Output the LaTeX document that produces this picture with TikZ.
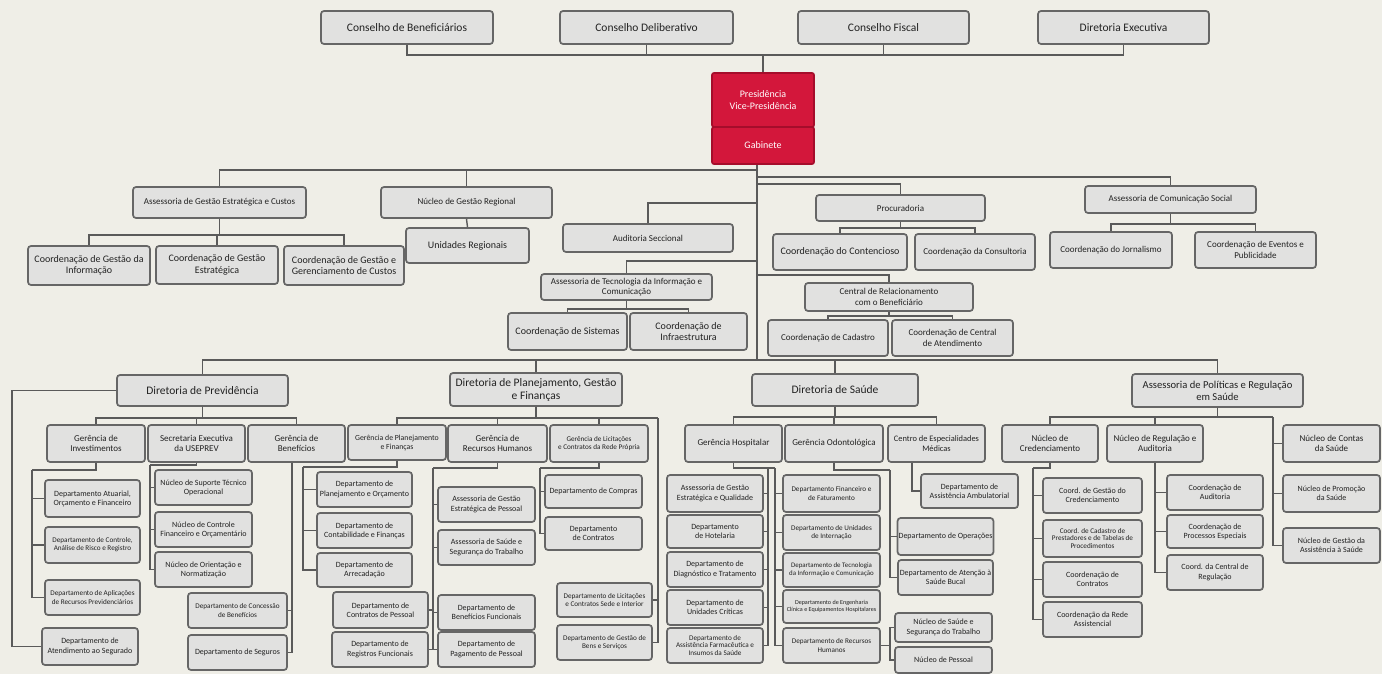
\documentclass[tikz,border=0pt]{standalone}
\usepackage{fontspec}
\setmainfont{Carlito}
\usetikzlibrary{calc}
\definecolor{bgc}{HTML}{EFEEE7}
\definecolor{boxc}{HTML}{E1E1E0}
\definecolor{bordc}{HTML}{666666}
\definecolor{linec}{HTML}{5A5A5A}
\definecolor{txtc}{HTML}{222222}
\definecolor{redc}{HTML}{D3173B}
\definecolor{redd}{HTML}{A50D2B}
\tikzset{
  box/.style={draw=bordc, fill=boxc, line width=1.7pt, rounded corners=3pt, align=center,
    inner sep=1pt, text=txtc, font=\fontsize{8}{9.2}\selectfont},
  fA/.style={font=\fontsize{11.5}{13}\selectfont},
  fB/.style={font=\fontsize{10}{11.5}\selectfont},
  fC/.style={font=\fontsize{9}{10.3}\selectfont},
  fD/.style={font=\fontsize{7.2}{8.2}\selectfont},
  fE/.style={font=\fontsize{7.2}{7.9}\selectfont},
  redbox/.style={box, fill=redc, draw=redd, text=white, rounded corners=2pt},
  conn/.style={draw=linec, line width=1.4pt},
}
\newcommand\bx[7][]{\node[box,minimum width={(#5-#3)*1pt},minimum height={(#6-#4)*1pt},#1] (#2) at ({(#3+#5)/2},{(#4+#6)/2}) {#7};}
\newcommand\down[3]{\draw[conn] (#1.south) -- (#1.south |- 0,#3) -| (#2.north);}
\begin{document}
\begin{tikzpicture}[x=1pt,y=-1pt]
\path[use as bounding box, fill=bgc] (0,0) rectangle (1382,674);

% ---------- top councils
\bx[fA]{t1}{321}{11}{493}{44}{Conselho de Beneficiários}
\bx[fA]{t2}{560}{11}{733}{44}{Conselho Deliberativo}
\bx[fA]{t3}{798}{11}{969}{44}{Conselho Fiscal}
\bx[fA]{t4}{1038}{11}{1209}{44}{Diretoria Executiva}
\bx[redbox,fB]{pres}{712}{73}{814}{127}{Presidência\\Vice-Presidência}
\bx[redbox,fB]{gab}{712}{127}{814}{164}{Gabinete}

\draw[conn] (t1.south) -- (t1.south |- 0,55) -- (t4.south |- 0,55) -- (t4.south);
\draw[conn] (t2.south) -- (t2.south |- 0,55);
\draw[conn] (t3.south) -- (t3.south |- 0,55);
\draw[conn] (pres.north) -- (pres.north |- 0,55);

% ---------- second level
\bx[fC]{agec}{133}{187}{306}{218}{Assessoria de Gestão Estratégica e Custos}
\bx[fC]{ngr}{381}{187}{552}{218}{Núcleo de Gestão Regional}
\bx[fB]{ur}{406}{228}{529}{263}{Unidades Regionais}
\bx[fB]{cgi}{28}{246}{150}{285}{Coordenação de Gestão da\\Informação}
\bx[fB]{cge}{156}{246}{278}{284}{Coordenação de Gestão\\Estratégica}
\bx[fB]{cgc}{284}{246}{404}{285}{Coordenação de Gestão e\\Gerenciamento de Custos}

\bx[fC]{aud}{563}{224}{733}{252}{Auditoria Seccional}
\bx[fC]{atic}{541}{274}{712}{300}{Assessoria de Tecnologia da Informação e\\Comunicação}
\bx[fB]{csis}{508}{313}{627}{350}{Coordenação de Sistemas}
\bx[fB]{cinf}{630}{313}{747}{350}{Coordenação de\\Infraestrutura}

\bx[fC]{proc}{816}{195}{985}{221}{Procuradoria}
\bx[fB]{ccont}{773}{234}{907}{270}{Coordenação do Contencioso}
\bx[fC]{ccons}{915}{234}{1035}{270}{Coordenação da Consultoria}

\bx[fC]{crb}{805}{283}{973}{311}{Central de Relacionamento\\com o Beneficiário}
\bx[fC]{ccad}{768}{320}{888}{356}{Coordenação de Cadastro}
\bx[fC]{ccat}{892}{320}{1013}{356}{Coordenação de Central\\de Atendimento}

\bx[fC]{acs}{1085}{186}{1256}{213}{Assessoria de Comunicação Social}
\bx[fC]{cjor}{1050}{232}{1172}{268}{Coordenação do Jornalismo}
\bx[fC]{cev}{1195}{232}{1316}{268}{Coordenação de Eventos e\\Publicidade}

\coordinate (hl) at (757,170);
\coordinate (hr) at (757,177);
\coordinate (hp) at (757,184);
\coordinate (ha) at (757,203);
\coordinate (ht) at (757,261);
\coordinate (hc) at (757,275);
\coordinate (hub) at (757,360);
\draw[conn] (gab.south -| hub) -- (hub);
\draw[conn] (hl) -| (agec.north);
\draw[conn] (hl) -| (ngr.north);
\draw[conn] (hr) -| (acs.north);
\draw[conn] (hp) -| (proc.north);
\draw[conn] (ha) -| (aud.north);
\draw[conn] (ht) -| (atic.north);
\draw[conn] (hc) -| (crb.north);
\draw[conn] (ngr.south) -- (ur.north);
\down{agec}{cgi}{235}\down{agec}{cge}{235}\down{agec}{cgc}{235}
\down{atic}{csis}{309}\down{atic}{cinf}{309}
\down{proc}{ccont}{228}\down{proc}{ccons}{228}
\down{crb}{ccad}{316}\down{crb}{ccat}{316}
\down{acs}{cjor}{224}\down{acs}{cev}{224}

% ---------- directorates
\bx[fA]{dprev}{117}{375}{288}{406}{Diretoria de Previdência}
\bx[fA]{dplan}{450}{373}{622}{406}{Diretoria de Planejamento, Gestão\\e Finanças}
\bx[fA]{dsau}{752}{374}{918}{406}{Diretoria de Saúde}
\bx[font=\fontsize{10.6}{12}\selectfont]{dapr}{1132}{374}{1303}{407}{Assessoria de Políticas e Regulação\\em Saúde}
\foreach \d in {dprev,dplan,dsau,dapr} {\draw[conn] (hub) -| (\d.north);}

% ---------- Diretoria de Previdência
\bx[fC]{gi}{47}{425}{145}{462}{Gerência de\\Investimentos}
\bx[fC]{sec}{148}{425}{245}{462}{Secretaria Executiva\\da USEPREV}
\bx[fC]{gb}{248}{425}{345}{462}{Gerência de\\Benefícios}
\down{dprev}{gi}{418}\down{dprev}{sec}{418}\down{dprev}{gb}{418}

\bx{dao}{45}{480}{140}{517}{Departamento Atuarial,\\Orçamento e Financeiro}
\bx[fD]{dcar}{45}{527}{140}{563}{Departamento de Controle,\\Análise de Risco e Registro}
\bx[fD]{dapl}{45}{580}{140}{615}{Departamento de Aplicações\\de Recursos Previdenciários}
\bx{das}{42}{628}{138}{665}{Departamento de\\Atendimento ao Segurado}
\draw[conn] (dprev.west) -- (dprev.west -| 12,0) |- (das.west);
\draw[conn] (gi.south) -- (gi.south |- 0,470) -- (32,470);
\foreach \c in {dao,dcar,dapl} {\draw[conn] (32,470) |- (\c.west);}

\bx{nsto}{155}{470}{252}{505}{Núcleo de Suporte Técnico\\Operacional}
\bx{ncfo}{155}{512}{252}{547}{Núcleo de Controle\\Financeiro e Orçamentário}
\bx{non}{155}{552}{252}{587}{Núcleo de Orientação e\\Normatização}
\draw[conn] (sec.south) -- (sec.south |- 0,465) -- (150,465);
\foreach \c in {nsto,ncfo,non} {\draw[conn] (150,465) |- (\c.west);}

\bx[fD]{dcb}{188}{593}{287}{628}{Departamento de Concessão\\de Benefícios}
\bx{dseg}{188}{635}{287}{670}{Departamento de Seguros}
\draw[conn] (gb.south -| 292,0) |- (dseg.east);
\draw[conn] (gb.south -| 292,0) |- (dcb.east);

% ---------- Diretoria de Planejamento
\bx[font=\fontsize{7.8}{9}\selectfont]{gpf}{348}{425}{446}{460}{Gerência de Planejamento\\e Finanças}
\bx[fC]{grh}{448}{425}{547}{462}{Gerência de\\Recursos Humanos}
\bx[fD]{glc}{550}{425}{648}{462}{Gerência de Licitações\\e Contratos da Rede Própria}
\down{dplan}{gpf}{418}\down{dplan}{grh}{418}\down{dplan}{glc}{418}

\bx{dpo}{317}{472}{412}{507}{Departamento de\\Planejamento e Orçamento}
\bx{dcf}{317}{513}{412}{548}{Departamento de\\Contabilidade e Finanças}
\bx{darr}{317}{553}{412}{587}{Departamento de\\Arrecadação}
\draw[conn] (gpf.south) -- (gpf.south |- 0,467) -- (303,467);
\foreach \c in {dpo,dcf,darr} {\draw[conn] (303,467) |- (\c.west);}

\bx{agep}{438}{487}{535}{522}{Assessoria de Gestão\\Estratégica de Pessoal}
\bx{asst}{438}{530}{535}{565}{Assessoria de Saúde e\\Segurança do Trabalho}
\bx{dbf}{438}{595}{535}{630}{Departamento de\\Benefícios Funcionais}
\bx{dpp}{438}{632}{535}{667}{Departamento de\\Pagamento de Pessoal}
\bx{dcp}{333}{592}{428}{628}{Departamento de\\Contratos de Pessoal}
\bx{drf}{332}{632}{428}{667}{Departamento de\\Registros Funcionais}
\draw[conn] (grh.south) -- (grh.south |- 0,468) -- (433,468);
\foreach \c in {agep,asst,dbf,dpp} {\draw[conn] (433,468) |- (\c.west);}
\foreach \c in {dcp,drf} {\draw[conn] (433,468) |- (\c.east);}

\bx{dcomp}{545}{475}{642}{508}{Departamento de Compras}
\bx{dcont}{545}{517}{642}{550}{Departamento\\de Contratos}
\draw[conn] (glc.south) -- (glc.south |- 0,468) -- (540,468);
\foreach \c in {dcomp,dcont} {\draw[conn] (540,468) |- (\c.west);}

\bx[fD]{dlcs}{557}{583}{652}{617}{Departamento de Licitações\\e Contratos Sede e Interior}
\bx[fD]{dgbs}{557}{625}{652}{660}{Departamento de Gestão de\\Bens e Serviços}
\draw[conn] (dplan.south) -- (dplan.south |- 0,418) -- (658,418);
\foreach \c in {dlcs,dgbs} {\draw[conn] (658,418) |- (\c.east);}

% ---------- Diretoria de Saúde
\bx[fC]{gh}{685}{425}{782}{462}{Gerência Hospitalar}
\bx[fC]{go}{785}{425}{883}{462}{Gerência Odontológica}
\bx[font=\fontsize{8.4}{9.6}\selectfont]{cem}{888}{425}{985}{462}{Centro de Especialidades\\Médicas}
\down{dsau}{gh}{417}\down{dsau}{go}{417}\down{dsau}{cem}{417}

\bx{agq}{667}{475}{763}{512}{Assessoria de Gestão\\Estratégica e Qualidade}
\bx{dhot}{667}{515}{763}{548}{Departamento\\de Hotelaria}
\bx{ddt}{667}{552}{763}{587}{Departamento de\\Diagnóstico e Tratamento}
\bx{duc}{667}{590}{763}{625}{Departamento de\\Unidades Críticas}
\bx[fE]{dafi}{667}{628}{763}{663}{Departamento de\\Assistência Farmacêutica e\\Insumos da Saúde}
\bx[fD]{dff}{783}{475}{880}{512}{Departamento Financeiro e\\de Faturamento}
\bx[fD]{dui}{783}{515}{880}{550}{Departamento de Unidades\\de Internação}
\bx[font=\fontsize{6.9}{8}\selectfont]{dtic}{783}{553}{880}{587}{Departamento de Tecnologia\\da Informação e Comunicação}
\bx[font=\fontsize{6.1}{7.1}\selectfont]{deceh}{783}{590}{880}{623}{Departamento de Engenharia\\Clínica e Equipamentos Hospitalares}
\bx[fD]{drh}{783}{628}{880}{663}{Departamento de Recursos\\Humanos}
\draw[conn] (gh.south) -- (gh.south |- 0,468) -- (775,468);
\foreach \c in {agq,dhot,ddt,duc,dafi} {\draw[conn] (768,468) |- (\c.east);}
\foreach \c in {dff,dui,dtic,deceh,drh} {\draw[conn] (775,468) |- (\c.west);}

\bx{dop}{898}{518}{993}{555}{Departamento de Operações}
\bx{dasb}{898}{560}{993}{595}{Departamento de Atenção à\\Saúde Bucal}
\draw[conn] (go.south) -- (go.south |- 0,470) -- (890,470);
\foreach \c in {dop,dasb} {\draw[conn] (890,470) |- (\c.west);}

\bx{daa}{921}{474}{1018}{508}{Departamento de\\Assistência Ambulatorial}
\draw[conn] (cem.south -| 912,0) |- (daa.west);

\bx{nsst}{895}{613}{992}{642}{Núcleo de Saúde e\\Segurança do Trabalho}
\bx{npes}{895}{647}{992}{673}{Núcleo de Pessoal}
\draw[conn] (drh.east) -- (drh.east -| 890,0);
\foreach \c in {nsst,npes} {\draw[conn] (drh.east -| 890,0) |- (\c.west);}

% ---------- Assessoria de Políticas e Regulação em Saúde
\bx[fC]{ncred}{1002}{425}{1098}{462}{Núcleo de\\Credenciamento}
\bx[fC]{nra}{1107}{425}{1203}{462}{Núcleo de Regulação e\\Auditoria}
\bx[fC]{ncs}{1283}{425}{1380}{462}{Núcleo de Contas\\da Saúde}
\bx{nps}{1283}{475}{1380}{512}{Núcleo de Promoção\\da Saúde}
\bx{ngas}{1283}{528}{1380}{563}{Núcleo de Gestão da\\Assistência à Saúde}
\down{dapr}{ncred}{417}\down{dapr}{nra}{417}
\draw[conn] (dapr.south) -- (dapr.south |- 0,417) -- (1273,417);
\foreach \c in {ncs,nps,ngas} {\draw[conn] (1273,417) |- (\c.west);}

\bx{cgc2}{1043}{478}{1142}{513}{Coord. de Gestão do\\Credenciamento}
\bx[fE]{ccpt}{1043}{520}{1142}{557}{Coord. de Cadastro de\\Prestadores e de Tabelas de\\Procedimentos}
\bx{ccontr}{1043}{562}{1142}{597}{Coordenação de\\Contratos}
\bx{cra}{1043}{602}{1142}{637}{Coordenação da Rede\\Assistencial}
\draw[conn] (ncred.south) -- (ncred.south |- 0,468) -- (1033,468);
\foreach \c in {cgc2,ccpt,ccontr,cra} {\draw[conn] (1033,468) |- (\c.west);}

\bx{caud}{1167}{475}{1263}{510}{Coordenação de\\Auditoria}
\bx{cpe}{1167}{515}{1263}{548}{Coordenação de\\Processos Especiais}
\bx{ccr}{1167}{555}{1263}{590}{Coord. da Central de\\Regulação}
\foreach \c in {caud,cpe,ccr} {\draw[conn] (nra.south) |- (\c.west);}
\end{tikzpicture}
\end{document}
